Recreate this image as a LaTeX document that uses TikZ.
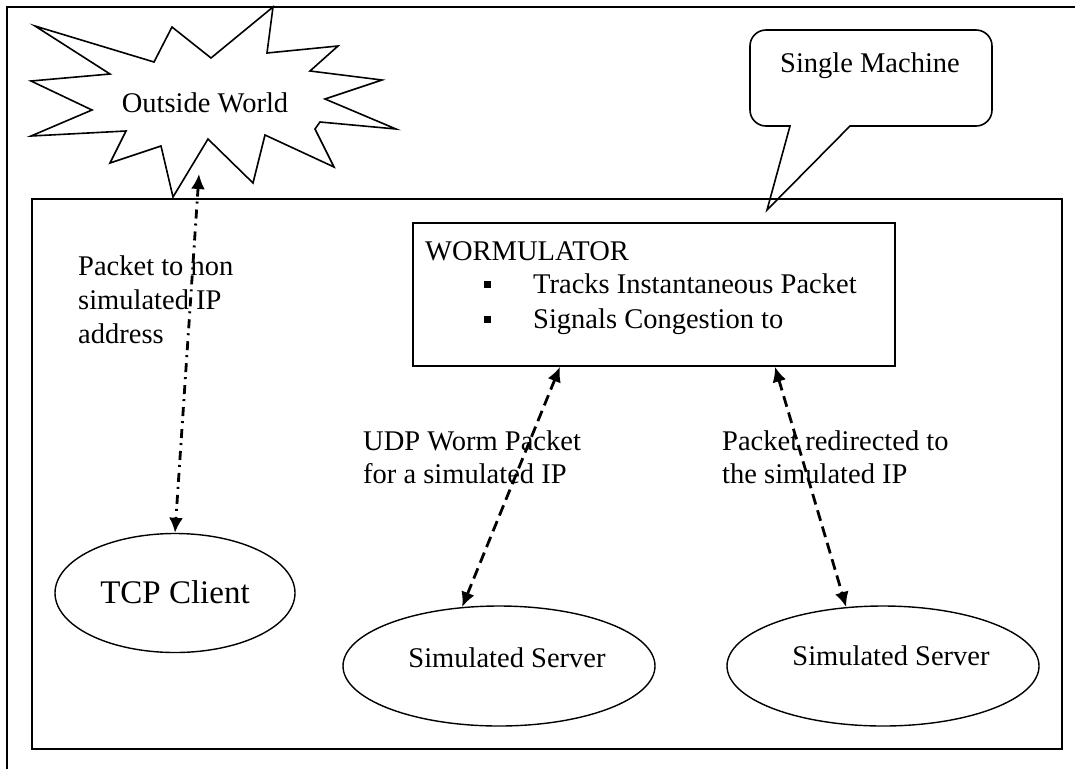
\documentclass[tikz,border=0pt]{standalone}
\usepackage{fontspec}
\setmainfont{Liberation Serif}
\usetikzlibrary{arrows.meta,positioning,fit,shapes.geometric,calc}
\tikzset{
	lbl/.style={anchor=base west,inner sep=0pt},
	ctr/.style={anchor=base,inner sep=0pt},
	bigtip/.style={>={Latex[length=15pt,width=14pt]}},
	dashlink/.style={<->,bigtip,line width=2.8pt,dash pattern=on 11pt off 6pt},
	dotlink/.style={<->,bigtip,line width=2.8pt,dash pattern=on 9pt off 5pt on 2pt off 6pt},
	oval/.style={ellipse,draw,line width=1.4pt,inner sep=0pt},
	sqbullet/.style={fill,minimum size=7pt,inner sep=0pt},
}
\begin{document}
\begin{tikzpicture}[x=1pt,y=-1pt,font=\fontsize{28.5}{33}\selectfont]
	\useasboundingbox (0,0) rectangle (1075,769);
	\draw[line width=1.2pt] (7,769) -- (7,7) -- (1075,7);
	\draw[line width=1.6pt] (32,199) rectangle (1062,749);
	\draw[line width=2.4pt] (32,749) -- (1062,749) -- (1062,199);
	\draw[line width=1.6pt,fill=white] (35,26) -- (154,62) -- (172,27) -- (211,58) -- (273,7) -- (267,53) -- (338,46) -- (310,71) -- (382,80) -- (325,99) -- (396,129) -- (320,122) -- (315,129) -- (334,167) -- (265,135) -- (253,183) -- (208,139) -- (173,197) -- (161,146) -- (110,163) -- (126,131) -- (31,136) -- (92,110) -- (31,81) -- (110,74) -- cycle;
	\node (world) at (205,112) [ctr] {Outside World};
	\draw[line width=1.6pt] (767,210) -- (790,126) [rounded corners=16pt] -- (750,126) -- (750,30) -- (992,30) -- (992,126) [sharp corners] -- (850,126) -- cycle;
	\node (machine) at (870,72) [ctr] {Single Machine};
	\coordinate (wnw) at (413,223);
	\coordinate (wse) at (895,366);
	\node (worm) [fit=(wnw)(wse),draw,line width=1.6pt,inner sep=0pt] {};
	\node (wtitle) at (425,260) [lbl] {WORMULATOR};
	\node (sq1) at (487,284) [sqbullet] {};
	\node (wline1) at (533,293) [lbl] {Tracks Instantaneous Packet};
	\node (sq2) at (487,319) [sqbullet] {};
	\node (wline2) at (533,328) [lbl] {Signals Congestion to};
	\node (tcp) at (175,593) [oval,minimum width=240pt,minimum height=119pt] {};
	\node (tcptext) at (175,603) [ctr,font=\fontsize{33}{38}\selectfont] {TCP Client};
	\node (srv1) at (499,666) [oval,minimum width=312pt,minimum height=120pt] {};
	\node (srv1text) at (507,667) [ctr] {Simulated Server};
	\node (srv2) at (883,666) [oval,minimum width=312pt,minimum height=120pt] {};
	\node (srv2text) at (891,665) [ctr] {Simulated Server};
	\coordinate (wtip) at (199,174);
	\draw[dotlink] (wtip) -- (tcp.north);
	\draw[dashlink] ($(worm.south)+(-94,0)$) -- (srv1.122);
	\draw[dashlink] ($(worm.south)+(121,0)$) -- (srv2.122);
	\node (nonsim1) at (78,275) [lbl] {Packet to non};
	\node (nonsim2) at (78,309) [lbl] {simulated IP};
	\node (nonsim3) at (78,343) [lbl] {address};
	\node (udp1) at (363,450) [lbl] {UDP Worm Packet};
	\node (udp2) at (363,483) [lbl] {for a simulated IP};
	\node (redir1) at (722,450) [lbl] {Packet redirected to};
	\node (redir2) at (722,483) [lbl] {the simulated IP};
\end{tikzpicture}
\end{document}
